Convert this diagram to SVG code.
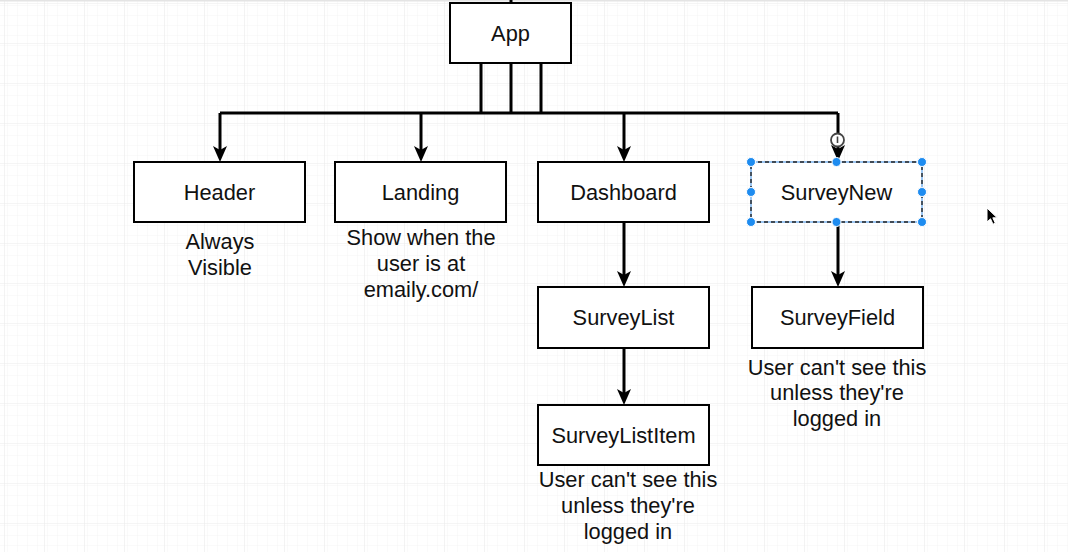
<svg xmlns="http://www.w3.org/2000/svg" width="1068" height="552" viewBox="0 0 1068 552">
  <style>
    .box { fill: #ffffff; stroke: #000000; stroke-width: 2; }
    .lbl { font-family: "Liberation Sans", Arial, Helvetica, sans-serif; font-size: 21.8px; fill: #111111; text-anchor: middle; }
    .wire { fill: none; stroke: #000000; stroke-width: 3; }
    .handle { fill: #1e8cf0; stroke: #ffffff; stroke-width: 1; }
  </style>
  <defs>
    <pattern id="minor" width="10" height="10" patternUnits="userSpaceOnUse" x="4" y="3">
      <path d="M10,0 V10 M0,10 H10" fill="none" stroke="#f4f4f4" stroke-width="1"/>
    </pattern>
    <pattern id="major" width="40" height="40" patternUnits="userSpaceOnUse" x="4" y="3">
      <rect width="40" height="40" fill="url(#minor)"/>
      <path d="M0,0 V40 M0,0 H40" fill="none" stroke="#ebebeb" stroke-width="1.2"/>
    </pattern>
    <marker id="arrow" viewBox="0 0 16 16" refX="10" refY="8" markerWidth="16" markerHeight="16" markerUnits="userSpaceOnUse" orient="auto">
      <path d="M0,1 L16,8 L0,15 L4,8 Z" fill="#000000"/>
    </marker>
  </defs>

  <rect width="1068" height="552" fill="#ffffff"/>
  <rect width="1068" height="552" fill="url(#major)"/>
  <rect x="0" y="0" width="1068" height="1.5" fill="#e4e4e4"/>

  <g id="connectors">
    <path class="wire" d="M511,0 V3"/>
    <path class="wire" d="M481,63 V113 M511,63 V113 M541,63 V113"/>
    <path class="wire" d="M220,113 H838"/>
    <path class="wire" d="M220,113 V156" marker-end="url(#arrow)"/>
    <path class="wire" d="M421,113 V156" marker-end="url(#arrow)"/>
    <path class="wire" d="M624,113 V156" marker-end="url(#arrow)"/>
    <path class="wire" d="M838,113 V155" marker-end="url(#arrow)"/>
    <path class="wire" d="M624,222 V281" marker-end="url(#arrow)"/>
    <path class="wire" d="M624,348 V399" marker-end="url(#arrow)"/>
    <path class="wire" d="M838,222 V281" marker-end="url(#arrow)"/>
    <g id="connection-icon">
      <circle cx="837.5" cy="140" r="6.5" fill="#ffffff" stroke="#444444" stroke-width="1.8"/>
      <path d="M837.5,136.5 V143" stroke="#444444" stroke-width="1.6"/>
    </g>
  </g>

  <g id="node-app">
    <rect class="box" x="450" y="3" width="121" height="60"/>
    <text class="lbl" x="510.5" y="41">App</text>
  </g>

  <g id="node-header">
    <rect class="box" x="134" y="162" width="171" height="60"/>
    <text class="lbl" x="219.5" y="200">Header</text>
    <text class="lbl" x="220" y="249">Always</text>
    <text class="lbl" x="220" y="275">Visible</text>
  </g>

  <g id="node-landing">
    <rect class="box" x="335" y="162" width="171" height="60"/>
    <text class="lbl" x="420.5" y="200">Landing</text>
    <text class="lbl" x="421" y="245">Show when the</text>
    <text class="lbl" x="421" y="271">user is at</text>
    <text class="lbl" x="421" y="297">emaily.com/</text>
  </g>

  <g id="node-dashboard">
    <rect class="box" x="538" y="162" width="171" height="60"/>
    <text class="lbl" x="623.5" y="200">Dashboard</text>
  </g>

  <g id="node-surveynew">
    <rect x="751" y="162" width="171" height="60" fill="#ffffff" stroke="#3a8ee6" stroke-width="1"/>
    <rect x="751" y="162" width="171" height="60" fill="none" stroke="#222222" stroke-width="1.4" stroke-dasharray="4 3"/>
    <text class="lbl" x="836.5" y="200">SurveyNew</text>
    <circle class="handle" cx="751" cy="162" r="4.5"/>
    <circle class="handle" cx="836.5" cy="162" r="4.5"/>
    <circle class="handle" cx="922" cy="162" r="4.5"/>
    <circle class="handle" cx="751" cy="192" r="4.5"/>
    <circle class="handle" cx="922" cy="192" r="4.5"/>
    <circle class="handle" cx="751" cy="222" r="4.5"/>
    <circle class="handle" cx="836.5" cy="222" r="4.5"/>
    <circle class="handle" cx="922" cy="222" r="4.5"/>
  </g>

  <g id="node-surveylist">
    <rect class="box" x="538" y="287" width="171" height="61"/>
    <text class="lbl" x="623.5" y="325">SurveyList</text>
  </g>

  <g id="node-surveylistitem">
    <rect class="box" x="538" y="405" width="171" height="60"/>
    <text class="lbl" x="623.5" y="443">SurveyListItem</text>
    <text class="lbl" x="628" y="487">User can't see this</text>
    <text class="lbl" x="628" y="513">unless they're</text>
    <text class="lbl" x="628" y="539">logged in</text>
  </g>

  <g id="node-surveyfield">
    <rect class="box" x="752" y="287" width="171" height="61"/>
    <text class="lbl" x="837.5" y="325">SurveyField</text>
    <text class="lbl" x="837" y="375">User can't see this</text>
    <text class="lbl" x="837" y="400">unless they're</text>
    <text class="lbl" x="837" y="426">logged in</text>
  </g>

  <g id="cursor">
    <path d="M987,208 L987,222 L990.5,218.8 L993,224.2 L995.3,223.2 L992.8,217.8 L997.2,217.8 Z" fill="#000000" stroke="#ffffff" stroke-width="1"/>
  </g>
</svg>
